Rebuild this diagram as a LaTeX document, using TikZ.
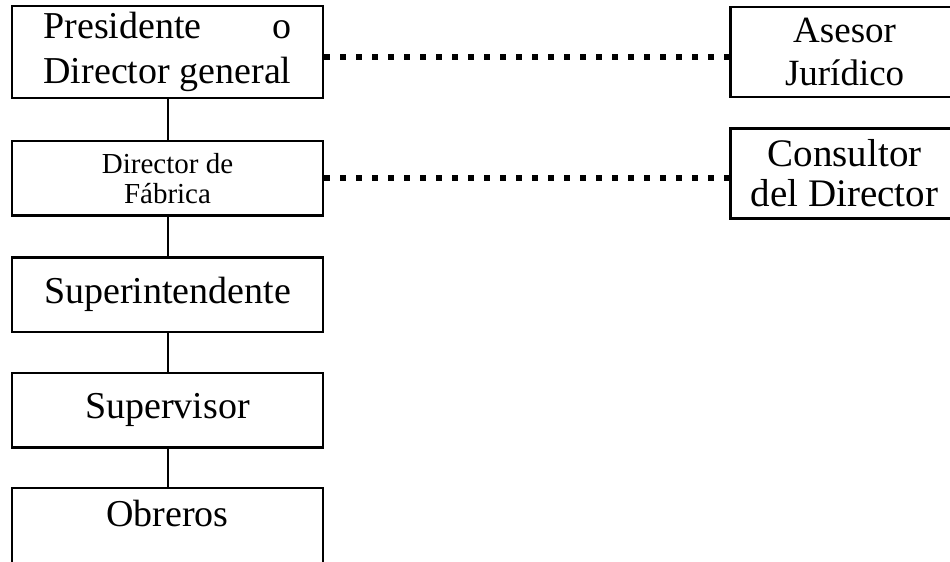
\documentclass[tikz,border=0pt]{standalone}
\usepackage{fontspec}
\setmainfont{Liberation Serif}
\usetikzlibrary{positioning}

\tikzset{
  puesto/.style={draw, line width=1.3pt, minimum width=155.5pt, minimum height=37.2pt,
    inner sep=0pt, align=center, font=\fontsize{19}{22.5}\selectfont},
  asesor/.style={draw, line width=1.3pt, minimum width=114pt, minimum height=45pt,
    inner sep=0pt, align=center},
  linea/.style={line width=1pt},
  staff/.style={line width=2.8pt, dash pattern=on 3pt off 5pt},
}

\begin{document}
\begin{tikzpicture}
\useasboundingbox (0,0) rectangle (475pt,-281pt);
\clip (0,0) rectangle (475pt,-281pt);

% line positions
\node[puesto, minimum height=46pt] (pres) at (83.75pt,-26pt)
  {\begin{tabular}{@{}c@{}}Presidente\hfill o\\Director general\end{tabular}};
\node[puesto, below = 20.2pt of pres, font=\fontsize{14.5}{15}\selectfont] (dirfab) {Director de\\Fábrica};
\node[puesto, below = 19.7pt of dirfab] (superint) {Superintendente};
\node[puesto, below = 19.2pt of superint] (superv) {Supervisor};
\node[puesto, below = 19pt of superv, text height=19.5pt, text depth=40pt] (obreros) {Obreros};

% staff positions
\node[asesor, right = 202.5pt of pres, font=\fontsize{18.5}{21.5}\selectfont] (asesor) {Asesor\\Jurídico};
\node[asesor, right = 202.5pt of dirfab, yshift=2.5pt, font=\fontsize{19.5}{20}\selectfont] (consultor) {Consultor\\del Director};

% Connect nodes
\draw[linea] (pres) -- (dirfab);
\draw[linea] (dirfab) -- (superint);
\draw[linea] (superint) -- (superv);
\draw[linea] (superv) -- (obreros);

\draw[staff] ([yshift=-2.5pt]pres.east) -- ([yshift=-2.5pt]pres.east -| asesor.west);
\draw[staff] (dirfab.east) -- (dirfab.east -| consultor.west);

\end{tikzpicture}
\end{document}
